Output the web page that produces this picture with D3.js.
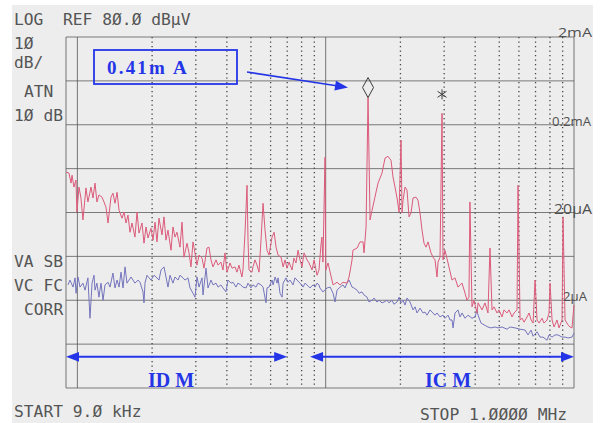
<!DOCTYPE html>
<html>
<head>
<meta charset="utf-8">
<script src="https://cdn.jsdelivr.net/npm/d3@7"></script>
<style>
  html, body { margin: 0; padding: 0; background: #ffffff; }
  svg { display: block; }
  text.mono { white-space: pre; }
</style>
</head>
<body>
<svg id="chart" width="600" height="423"></svg>
<script>
// Conducted-emission sweep, 9 kHz .. 1 MHz, log frequency axis.
// Frequencies in kHz, levels in dBµV (REF 80 dBµV, 10 dB/div).

const redFreq = [9.0, 9.25, 9.43, 9.52, 9.69, 9.87, 9.96, 10.15, 10.34, 10.53, 10.83, 11.03, 11.35, 11.56, 11.78, 11.99,
  12.22, 12.57, 12.80, 13.04, 13.29, 13.66, 13.91, 14.18, 14.45, 14.72, 15.13, 15.41, 15.70, 15.99, 16.29, 16.60,
  17.06, 17.39, 17.71, 18.21, 18.55, 18.90, 19.25, 19.80, 20.17, 20.55, 20.92, 21.32, 21.92, 22.33, 22.75, 23.17,
  23.83, 24.27, 24.73, 25.19, 25.90, 26.39, 26.88, 27.64, 28.16, 28.68, 29.22, 29.76, 30.32, 30.90, 31.77, 32.36,
  33.27, 33.88, 34.52, 35.18, 36.17, 36.85, 37.86, 38.58, 39.31, 40.04, 41.19, 41.96, 43.14, 43.92, 44.75, 46.0,
  46.44, 47.33, 48.22, 48.67, 49.11, 50.48, 50.96, 51.92, 52.9, 53.9, 54.9, 55.94, 56.98, 58.04, 59.13, 60.81,
  61.98, 63.14, 64.3, 66.13, 67.38, 68.63, 69.88, 71.2, 73.2, 74.5, 75.9, 77.4, 78.8, 80.3, 81.8, 84.1,
  85.7, 88.1, 89.8, 92.3, 93.98, 95.7, 96.6, 97.5, 99.4, 100.1, 102.2, 104.2, 107.1, 111.1, 114.3, 117.4,
  121.9, 124.2, 127.7, 128.8, 133.8, 137.5, 141.4, 142.7, 145.4, 148.1, 150.9, 153.7, 157.9, 162.5, 168.6, 173.4,
  178.2, 183.3, 186.7, 190.2, 193.8, 197.5, 201.1, 203.0, 204.9, 208.7, 212.6, 216.6, 220.6, 224.8, 231.1, 235.4,
  239.8, 244.3, 248.9, 253.6, 258.3, 265.6, 270.5, 275.6, 280.8, 283.4, 288.7, 294.1, 296.8, 302.3, 311.0, 322.7,
  331.8, 341.0, 354.1, 364.1, 370.8, 377.6, 381.0, 388.4, 395.6, 406.9, 410.8, 426.3, 438.0, 450.4, 458.8, 467.6,
  476.5, 489.8, 498.7, 513, 522.6, 537.5, 547.5, 563, 573.4, 589.7, 595.1, 606.4, 618.0, 629.7, 647.1, 659.4,
  671.9, 684.4, 696.9, 710, 723.3, 743.3, 757.2, 779.0, 793.5, 800.8, 815.9, 831.1, 854.1, 870.5, 895.1, 903.4,
  920.3, 945.8, 963.6, 981.8, 1000];
const redLevel = [49.2, 49.0, 46.7, 48.5, 45.8, 47.4, 40.1, 45.8, 43.3, 38.3, 45.6, 42.4, 45.8, 43.3, 46.7, 42.4,
  44.0, 43.5, 42.4, 41.2, 37.6, 43.5, 44.4, 42.1, 44.6, 40.5, 38.7, 40.1, 37.6, 39.4, 35.5, 37.6,
  34.4, 40.1, 35.3, 37.6, 33.0, 36.7, 34.2, 36.4, 33.7, 37.8, 33.3, 38.7, 34.9, 39.0, 33.7, 36.0,
  31.4, 36.7, 34.4, 35.5, 32.1, 37.8, 29.8, 33.0, 30.8, 27.6, 33.3, 30.8, 28.0, 30.3, 29.6, 27.3,
  31.9, 32.1, 29.2, 27.6, 29.2, 28.0, 28.7, 26.9, 30.8, 26.4, 28.5, 27.3, 27.6, 26.4, 28.0, 25.3,
  26.9, 35.3, 46.2, 33.7, 26.9, 26.4, 27.6, 29.2, 28.0, 26.4, 33.7, 42.1, 36.0, 31.4, 30.3, 34.4,
  35.5, 32.1, 30.3, 29.8, 27.6, 29.2, 27.3, 28.7, 26.9, 29.6, 28.5, 31.4, 29.2, 27.6, 30.8, 29.2,
  28.5, 26.9, 29.2, 25.7, 26.9, 32.6, 34.4, 28.7, 52.6, 26.9, 28.5, 26.4, 23.5, 24.1, 23.5, 24.1,
  23.9, 25.3, 29.2, 31.4, 31.9, 33.3, 33.3, 30.8, 36.7, 66.2, 38.3, 40.5, 43.5, 46.7, 49.0, 52.4,
  52.8, 51.9, 48.1, 45.8, 43.3, 40.1, 56.5, 39.9, 42.8, 45.8, 45.1, 39.0, 39.9, 43.3, 43.5, 42.8,
  39.9, 36.0, 33.0, 32.1, 33.3, 30.8, 29.8, 29.2, 25.3, 28.7, 29.8, 62.6, 29.2, 31.4, 28.5, 24.6,
  25.1, 23.0, 23.9, 21.6, 20.0, 20.7, 42.4, 18.5, 20.0, 17.1, 19.4, 17.8, 19.4, 17.1, 31.9, 17.8,
  18.5, 17.1, 17.8, 16.2, 17.8, 17.1, 17.8, 16.2, 17.1, 17.8, 46.2, 15.5, 15.9, 15.0, 16.2, 17.1,
  15.5, 14.8, 24.6, 15.5, 14.8, 15.9, 14.8, 15.5, 17.1, 23.9, 15.5, 13.9, 15.5, 13.7, 15.5, 39.0,
  15.5, 14.4, 13.9, 13.7, 18.9];

const blueFreq = [9.17, 9.33, 9.61, 9.79, 9.88, 10.06, 10.25, 10.53, 10.74, 11.03, 11.24, 11.46, 11.67, 11.78, 11.99, 12.22,
  12.45, 12.69, 12.92, 13.29, 13.54, 13.91, 14.18, 14.45, 14.72, 14.99, 15.27, 15.56, 15.84, 16.14, 16.45, 16.75,
  17.06, 17.55, 17.87, 18.38, 18.55, 18.72, 19.07, 19.44, 19.80, 20.36, 20.74, 21.32, 21.72, 22.33, 22.75, 23.17,
  23.61, 24.27, 24.73, 25.43, 25.90, 26.63, 27.13, 27.90, 28.42, 29.22, 29.76, 30.32, 30.90, 31.77, 32.06, 32.97,
  33.58, 34.52, 35.18, 36.17, 36.85, 37.86, 38.58, 39.67, 40.42, 41.58, 42.35, 43.53, 44.31, 45.50, 46.44, 47.78,
  48.67, 50.0, 50.96, 52.40, 53.4, 54.9, 55.94, 57.5, 58.04, 59.13, 60.81, 61.40, 62.56, 63.72, 64.3, 65.47,
  66.75, 67.38, 69.25, 70.53, 71.87, 73.87, 75.22, 76.67, 78.84, 81.06, 82.6, 84.1, 86.5, 88.9, 90.6, 92.3,
  94.0, 94.8, 97.5, 101.3, 104.2, 107.1, 109.0, 111.1, 114.3, 117.4, 119.6, 121.9, 124.2, 127.7, 130.0, 133.8,
  136.3, 140.0, 142.7, 146.8, 149.5, 153.7, 156.6, 160.9, 164.0, 168.6, 171.8, 176.6, 179.8, 185.0, 188.4, 193.8,
  197.5, 201.1, 204.9, 208.7, 212.6, 218.6, 224.8, 229.0, 233.3, 239.8, 246.6, 251.2, 255.9, 263.2, 270.5, 275.6,
  280.8, 288.7, 296.8, 302.3, 311.0, 316.8, 322.7, 325.8, 331.8, 341.0, 347.5, 354.1, 364.1, 374.2, 388.4, 399.3,
  406.9, 410.8, 422.3, 434.1, 450.4, 463.1, 480.9, 494.2, 513, 537.5, 552.6, 578.8, 606.4, 635.5, 653.1, 671.9,
  684.4, 710, 730, 750, 779, 793.5, 815.9, 838.6, 861.3, 895.1, 920.3, 945.8, 981.8, 1000];
const blueLevel = [23.5, 24.6, 23.0, 25.1, 21.6, 25.3, 23.0, 23.9, 22.3, 25.1, 15.9, 23.9, 25.7, 22.3, 23.9, 20.7,
  23.9, 20.0, 23.5, 24.1, 23.0, 26.2, 22.8, 24.6, 23.0, 26.4, 22.8, 27.6, 23.9, 24.6, 25.3, 24.6,
  23.9, 24.6, 24.1, 21.9, 19.4, 23.9, 25.7, 25.1, 24.6, 25.7, 25.3, 24.6, 26.9, 27.6, 25.3, 23.0,
  25.7, 23.9, 25.3, 24.6, 25.7, 25.1, 24.6, 25.1, 22.8, 21.6, 20.7, 25.3, 23.0, 25.1, 21.2, 27.3,
  22.8, 24.6, 23.5, 23.9, 23.0, 23.5, 22.8, 21.9, 24.6, 23.9, 24.1, 23.0, 23.9, 23.5, 23.0, 22.8,
  23.9, 22.8, 23.5, 23.0, 23.9, 23.5, 23.0, 19.4, 22.8, 23.0, 24.6, 23.5, 25.3, 23.9, 25.1, 21.6,
  20.7, 23.9, 25.1, 24.1, 24.6, 23.5, 25.1, 24.6, 23.9, 23.0, 23.9, 23.5, 22.8, 23.5, 23.0, 23.9,
  23.5, 22.8, 21.9, 22.8, 23.0, 21.6, 19.6, 22.3, 23.0, 23.5, 22.8, 23.9, 24.6, 23.0, 22.8, 22.3,
  21.6, 21.9, 21.2, 20.7, 19.6, 20.0, 20.5, 19.6, 20.0, 19.4, 19.6, 20.0, 19.4, 20.0, 19.1, 19.6,
  20.7, 19.4, 20.0, 18.9, 20.5, 19.6, 17.8, 18.5, 17.1, 18.2, 17.1, 17.3, 16.6, 17.8, 17.1, 16.6,
  17.1, 16.2, 16.6, 15.9, 16.6, 15.5, 15.5, 13.7, 17.1, 17.8, 16.2, 17.1, 15.9, 16.6, 15.9, 16.2,
  17.8, 16.6, 14.8, 14.4, 13.9, 13.7, 13.9, 13.7, 13.9, 13.4, 13.9, 13.7, 13.4, 13.2, 12.1, 13.2,
  11.8, 12.8, 11.6, 11.6, 10.9, 12.1, 11.6, 12.1, 12.1, 11.6, 11.6, 11.4, 11.6, 12.5];

// Grid: solid lines at the band edges and decades, dotted lines at 2..9 x decade
const solidFreq = [9, 10, 100, 1000];
const dottedFreq = [20, 30, 40, 50, 60, 70, 80, 90, 200, 300, 400, 500, 600, 700, 800, 900];
const levelGrid = [0, 10, 20, 30, 40, 50, 60, 70, 80];

// Pencil notes: probe current equivalent of the level lines
const currentLabels = ["2mA", "0.2mA", "20\u03bcA", "2\u03bcA"];
const currentLevels = [80, 60, 40, 20];

// Markers on the red trace (kHz)
const diamondFreq = 148.1;
const asteriskFreq = 294.1;
const markerNote = "0.41m A";

// Emission bands
const bandNames = ["ID M", "IC M"];
const bandStart = [9, 86.5];
const bandStop = [70, 1000];

const svg = d3.select("#chart");
const W = 600, H = 423;

const x = d3.scaleLog().domain([9, 1000]).range([66, 574]);
const y = d3.scaleLinear().domain([0, 80]).range([388, 37]);

// paper
svg.append("rect").attr("x", 0).attr("y", 0).attr("width", W).attr("height", H).attr("fill", "#ffffff");
svg.append("rect").attr("x", 12).attr("y", 5).attr("width", 581).attr("height", H - 5).attr("fill", "#ededed");

const grid = svg.append("g").attr("class", "grid");

grid.selectAll("line.h").data(levelGrid).join("line")
  .attr("class", "h")
  .attr("x1", x(9)).attr("x2", x(1000))
  .attr("y1", d => y(d)).attr("y2", d => y(d))
  .attr("stroke", "#5c5c5c").attr("stroke-width", 1).attr("stroke-opacity", 0.8);

grid.selectAll("line.vs").data(solidFreq).join("line")
  .attr("class", "vs")
  .attr("x1", d => x(d)).attr("x2", d => x(d))
  .attr("y1", y(80)).attr("y2", y(0))
  .attr("stroke", "#555").attr("stroke-width", 1).attr("stroke-opacity", 0.8);

grid.selectAll("line.vd").data(dottedFreq).join("line")
  .attr("class", "vd")
  .attr("x1", d => x(d)).attr("x2", d => x(d))
  .attr("y1", y(80)).attr("y2", y(0))
  .attr("stroke", "#444").attr("stroke-width", 1.3)
  .attr("stroke-dasharray", "1.3,3.2");

// traces
const redData = d3.zip(redFreq, redLevel);
const blueData = d3.zip(blueFreq, blueLevel);
const line = d3.line().x(d => x(d[0])).y(d => y(d[1]));

svg.append("path").datum(blueData)
  .attr("d", line).attr("fill", "none")
  .attr("stroke", "#7474bd").attr("stroke-width", 1).attr("stroke-linejoin", "round");

svg.append("path").datum(redData)
  .attr("d", line).attr("fill", "none")
  .attr("stroke", "#dc5a7a").attr("stroke-width", 1).attr("stroke-linejoin", "round");

// markers
const levelAt = f => redLevel[redFreq.indexOf(f)];
const dx = x(diamondFreq), dy = y(levelAt(diamondFreq));
svg.append("path")
  .attr("d", `M${dx},${dy} L${dx + 5.5},${dy - 10} L${dx},${dy - 20} L${dx - 5.5},${dy - 10} Z`)
  .attr("fill", "none").attr("stroke", "#3a3a3a").attr("stroke-width", 1);

const ax = x(asteriskFreq), ay = y(levelAt(asteriskFreq)) - 19;
svg.append("path")
  .attr("d", `M${ax},${ay - 5} L${ax},${ay + 5} M${ax - 4.5},${ay - 3} L${ax + 4.5},${ay + 3} M${ax - 4.5},${ay + 3} L${ax + 4.5},${ay - 3}`)
  .attr("stroke", "#3a3a3a").attr("stroke-width", 1).attr("fill", "none");

// instrument annotations
const mono = "'DejaVu Sans Mono', 'Liberation Mono', monospace";
const ann = [
  { t: "LOG  REF 8\u00d8.\u00d8 dB\u00b5V", x: 14, y: 25 },
  { t: "1\u00d8", x: 14, y: 48.5 },
  { t: "dB/", x: 14, y: 68 },
  { t: "ATN", x: 24, y: 97 },
  { t: "1\u00d8 dB", x: 14, y: 120.5 },
  { t: "VA SB", x: 14, y: 266.5 },
  { t: "VC FC", x: 14, y: 290.5 },
  { t: "CORR", x: 24, y: 315 },
  { t: "START 9.\u00d8 kHz", x: 14, y: 416.5 },
  { t: "STOP 1.\u00d8\u00d8\u00d8\u00d8 MHz", x: 420, y: 420 }
];
svg.append("g").selectAll("text").data(ann).join("text")
  .attr("class", "mono")
  .attr("x", d => d.x).attr("y", d => d.y)
  .attr("font-family", mono).attr("font-size", 16.3)
  .attr("fill", "#555")
  .text(d => d.t);

// pencil current scale at the right edge
const pencil = svg.append("g")
  .attr("font-family", "'Open Sans', 'DejaVu Sans', sans-serif")
  .attr("fill", "#505050");
const pencilX = [558, 552, 554, 563];
const pencilW = [34, 39, 38, 24];
pencil.selectAll("text").data(currentLabels).join("text")
  .attr("x", (d, i) => pencilX[i])
  .attr("y", (d, i) => y(currentLevels[i]) + (i === 0 ? 0 : 1))
  .attr("font-size", (d, i) => i === 2 ? 15 : 13)
  .attr("textLength", (d, i) => pencilW[i])
  .attr("lengthAdjust", "spacingAndGlyphs")
  .text(d => d);

// marker readout box and arrow
const blue = "#2435e8";
const serif = "'Liberation Serif', 'DejaVu Serif', serif";
svg.append("rect").attr("x", 94).attr("y", 50).attr("width", 143).attr("height", 34)
  .attr("fill", "none").attr("stroke", blue).attr("stroke-width", 1.8);
svg.append("text").attr("x", 107).attr("y", 73.5)
  .attr("font-family", serif).attr("font-weight", "bold").attr("font-size", 19)
  .attr("letter-spacing", 2.2).attr("fill", blue)
  .text(markerNote);

function arrowHead(g, tipX, tipY, angle, len, half) {
  const c = Math.cos(angle), s = Math.sin(angle);
  const bx = tipX - len * c, by = tipY - len * s;
  g.append("path")
    .attr("d", `M${tipX},${tipY} L${bx - half * s},${by + half * c} L${bx + half * s},${by - half * c} Z`)
    .attr("fill", blue);
}

const tipX = dx - 20, tipY = dy - 10;
const ang = Math.atan2(tipY - 72, tipX - 247);
svg.append("line").attr("x1", 247).attr("y1", 72)
  .attr("x2", tipX - 10 * Math.cos(ang)).attr("y2", tipY - 10 * Math.sin(ang))
  .attr("stroke", blue).attr("stroke-width", 1.6);
arrowHead(svg, tipX, tipY, ang, 13, 5);

// band arrows
const bandY = y(7.1);
const bands = svg.append("g");
bandNames.forEach((name, i) => {
  const x0 = x(bandStart[i]), x1 = x(bandStop[i]);
  bands.append("line").attr("x1", x0 + 8).attr("x2", x1 - 8)
    .attr("y1", bandY).attr("y2", bandY)
    .attr("stroke", blue).attr("stroke-width", 2);
  arrowHead(bands, x0, bandY, Math.PI, 13, 4.8);
  arrowHead(bands, x1, bandY, 0, 13, 4.8);
  bands.append("text")
    .attr("x", i === 0 ? 148 : 425).attr("y", 387)
    .attr("font-family", serif).attr("font-weight", "bold").attr("font-size", 20)
    .attr("fill", blue)
    .text(name);
});
</script>
</body>
</html>
